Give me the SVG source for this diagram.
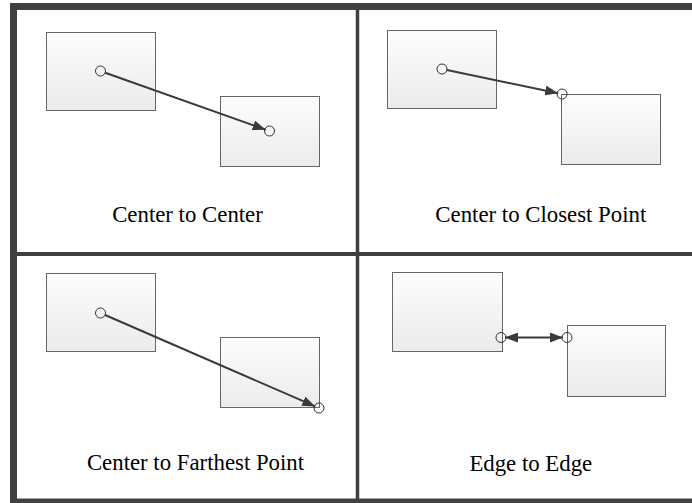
<svg xmlns="http://www.w3.org/2000/svg" width="692" height="503" viewBox="0 0 692 503">
<style>
.box{fill:url(#boxGrad);stroke:#666666;stroke-width:1}
.frame{fill:none;stroke:#404040}
.conn{fill:none;stroke:#3a3a3a;stroke-width:2}
.pt{fill:none;stroke:#333333;stroke-width:1}
.lbl{font-family:"Liberation Serif","Times New Roman",serif;font-size:22.8px;fill:#000000;text-anchor:middle}
</style>
<defs>
<linearGradient id="boxGrad" x1="0" y1="0" x2="0" y2="1">
<stop offset="0" stop-color="#fdfdfd"/>
<stop offset="1" stop-color="#ebebeb"/>
</linearGradient>
<marker id="arrow" viewBox="0 0 13 10" refX="13" refY="5" markerWidth="13" markerHeight="10" markerUnits="userSpaceOnUse" orient="auto-start-reverse">
<path d="M0,0 L13,5 L0,10 z" fill="#3a3a3a"/>
</marker>
</defs>
<rect width="692" height="503" fill="#ffffff"/>
<g id="frame">
<rect class="frame" x="13.5" y="6.5" width="700" height="495.5" stroke-width="7"/>
<line class="frame" x1="357.5" y1="8" x2="357.5" y2="500" stroke-width="3.5"/>
<line class="frame" x1="15" y1="254" x2="692" y2="254" stroke-width="4"/>
</g>
<g id="node-p1-a"><rect class="box" x="46.5" y="32.5" width="109" height="78"/></g>
<g id="node-p1-b"><rect class="box" x="220.5" y="96.5" width="99" height="70"/></g>
<g id="node-p2-a"><rect class="box" x="387.5" y="30.5" width="109" height="78"/></g>
<g id="node-p2-b"><rect class="box" x="561.5" y="94.5" width="99" height="70"/></g>
<g id="node-p3-a"><rect class="box" x="46.5" y="273.5" width="109" height="78"/></g>
<g id="node-p3-b"><rect class="box" x="220.5" y="337.5" width="99" height="70"/></g>
<g id="node-p4-a"><rect class="box" x="392.5" y="272.5" width="110" height="79"/></g>
<g id="node-p4-b"><rect class="box" x="567.5" y="325.5" width="98" height="71"/></g>
<g id="connectors">
<line class="conn" x1="105.2" y1="72.7" x2="265.7" y2="129.7" marker-end="url(#arrow)"/>
<circle class="pt" cx="100.5" cy="71" r="5"/>
<circle class="pt" cx="269.5" cy="131" r="5"/>
<line class="conn" x1="446.9" y1="70" x2="558.1" y2="93.2" marker-end="url(#arrow)"/>
<circle class="pt" cx="442" cy="69" r="5"/>
<circle class="pt" cx="562" cy="94" r="5"/>
<line class="conn" x1="105.1" y1="315" x2="315.3" y2="406.4" marker-end="url(#arrow)"/>
<circle class="pt" cx="100.5" cy="313" r="5"/>
<circle class="pt" cx="319" cy="408" r="5"/>
<line class="conn" x1="505" y1="337.5" x2="563" y2="337.5" marker-start="url(#arrow)" marker-end="url(#arrow)"/>
<circle class="pt" cx="501" cy="337.5" r="5"/>
<circle class="pt" cx="567" cy="337.5" r="5"/>
</g>
<g id="labels">
<text class="lbl" x="187.5" y="222">Center to Center</text>
<text class="lbl" x="540.8" y="222">Center to Closest Point</text>
<text class="lbl" x="195.5" y="470">Center to Farthest Point</text>
<text class="lbl" x="530.8" y="470.5">Edge to Edge</text>
</g>
</svg>
